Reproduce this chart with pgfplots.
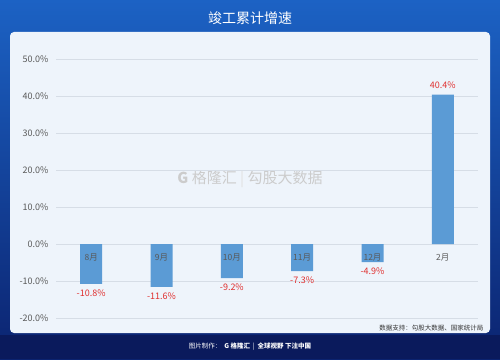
\documentclass[border=0pt]{standalone}
\usepackage{pgfplots}
\pgfplotsset{compat=1.18}
\usepackage{fontspec}
\setmainfont{Noto Sans CJK SC}
\definecolor{bgtop}{HTML}{1C62C4}
\definecolor{bgbot}{HTML}{0B2370}
\definecolor{foot}{HTML}{0A1A5C}
\definecolor{panel}{HTML}{EEF4FB}
\definecolor{barc}{HTML}{5B9BD5}
\definecolor{gridc}{HTML}{D6DDE6}
\definecolor{tickc}{HTML}{595959}
\definecolor{valc}{HTML}{E0302F}
\begin{document}
\begin{tikzpicture}[x=1pt,y=1pt]
\path[use as bounding box] (0,0) rectangle (500,359);
\shade[top color=bgtop, bottom color=bgbot] (0,0) rectangle (500,359);
\fill[foot] (0,0) rectangle (500,24);
\fill[panel, rounded corners=4pt] (10,26) rectangle (490,327);
\node[text=white, font=\fontsize{14}{16}\selectfont] at (250,341) {竣工累计增速};
\node[text=black!20, font=\fontsize{15}{17}\selectfont] at (250,180) {\textbf{G} 格隆汇 \textcolor{black!12}{|} 勾股大数据};
\node[text=black!80, font=\fontsize{6.5}{8}\selectfont, anchor=east] at (487,31) {数据支持：勾股大数据、国家统计局};
\node[text=white, font=\fontsize{6.5}{8}\selectfont] at (250,12) {图片制作：\ \ \textbf{G 格隆汇}\ \ |\ \ \textbf{全球视野 下注中国}};
\begin{axis}[
  at={(56pt,41pt)}, anchor=south west,
  scale only axis, width=422pt, height=259pt,
  xmin=-0.5, xmax=5.5, ymin=-20, ymax=50,
  ytick={-20,-10,0,10,20,30,40,50},
  yticklabel={\pgfmathprintnumber[fixed,fixed zerofill,precision=1]{\tick}\%},
  /pgf/number format/assume math mode=true,
  yticklabel style={text=tickc, font=\fontsize{9}{10}\selectfont, xshift=-4pt},
  xtick=\empty,
  major tick length=0pt,
  axis line style={draw=none},
  ymajorgrids, grid style={gridc, line width=0.8pt},
  clip=false,
]
\addplot[ybar, bar width=22pt, bar shift=0pt, fill=barc, draw=none,
  nodes near coords={\pgfmathprintnumber[fixed,fixed zerofill,precision=1]{\pgfplotspointmeta}\%},
  nodes near coords style={text=valc, font=\fontsize{9}{10}\selectfont, inner sep=5.5pt}]
  coordinates {(0,-10.8) (1,-11.6) (2,-9.2) (3,-7.3) (4,-4.9) (5,40.4)};
\addplot[only marks, mark=none, point meta=explicit symbolic,
  nodes near coords, nodes near coords align={below},
  nodes near coords style={text=tickc, font=\fontsize{8.5}{10}\selectfont, anchor=north, yshift=-6pt}]
  table[meta=label] {
x y label
0 0 8月
1 0 9月
2 0 10月
3 0 11月
4 0 12月
5 0 2月
};
\end{axis}
\end{tikzpicture}
\end{document}
